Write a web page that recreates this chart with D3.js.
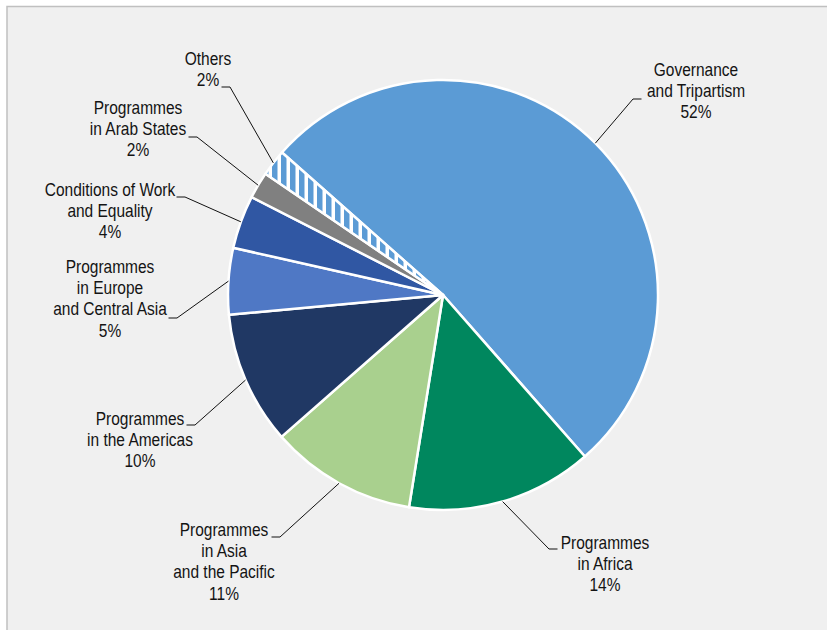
<!DOCTYPE html>
<html>
<head>
<meta charset="utf-8">
<script src="https://cdn.jsdelivr.net/npm/d3@7"></script>
<style>
  html, body { margin: 0; padding: 0; background: #ffffff; }
  svg { display: block; }
  text { font-family: 'Liberation Sans', Arial, sans-serif; font-size: 18.67px; fill: #141414; }
</style>
</head>
<body>
<svg id="chart" width="827" height="630"></svg>
<script>
// Expenditure share by area (percent), clockwise from the top-left
const categories = [
  "Governance and Tripartism",
  "Programmes in Africa",
  "Programmes in Asia and the Pacific",
  "Programmes in the Americas",
  "Programmes in Europe and Central Asia",
  "Conditions of Work and Equality",
  "Programmes in Arab States",
  "Others"
];
const values = [52, 14, 11, 10, 5, 4, 2, 2];
const labelLines = [
  ["Governance", "and Tripartism"],
  ["Programmes", "in Africa"],
  ["Programmes", "in Asia", "and the Pacific"],
  ["Programmes", "in the Americas"],
  ["Programmes", "in Europe", "and Central Asia"],
  ["Conditions of Work", "and Equality"],
  ["Programmes", "in Arab States"],
  ["Others"]
];
const colors = ["#5b9bd5", "#00875e", "#a9d08e", "#203864", "#4f78c5", "#3057a3", "#808080", "url(#hatch)"];

// Label placement: text centre x, first baseline y, elbow of the leader line and tick direction
const labelLayout = [
  { x: 696, y: 76,  ex: 633, ey: 99,  dir: 1 },
  { x: 605, y: 549, ex: 549, ey: 549, dir: 1 },
  { x: 224, y: 536, ex: 280, ey: 537, dir: -1 },
  { x: 140, y: 425, ex: 195, ey: 425, dir: -1 },
  { x: 110, y: 273, ex: 177, ey: 318, dir: -1 },
  { x: 110, y: 196, ex: 185, ey: 197, dir: -1 },
  { x: 138, y: 114, ex: 197, ey: 137, dir: -1 },
  { x: 208, y: 65,  ex: 230, ey: 87,  dir: -1 }
];

const W = 827, H = 630;
const cx = 443, cy = 295, R = 215;
const startDeg = -48.5;
const lineH = 21.2;
const narrow = 0.83;   // horizontal condensing of the label face

const svg = d3.select("#chart");

// Hatched fill for the smallest slice
const defs = svg.append("defs");
const pat = defs.append("pattern")
  .attr("id", "hatch")
  .attr("patternUnits", "userSpaceOnUse")
  .attr("width", 9).attr("height", 9);
pat.append("rect").attr("width", 9).attr("height", 9).attr("fill", "#ffffff");
pat.append("rect").attr("width", 5.5).attr("height", 9).attr("fill", "#5b9bd5");

// Panel background with its top and left rule
svg.append("rect").attr("x", 7).attr("y", 6.5).attr("width", W - 7).attr("height", H - 6.5).attr("fill", "#f0f0f0");
svg.append("path")
  .attr("d", `M7,${H} L7,6.5 L${W},6.5`)
  .attr("fill", "none").attr("stroke", "#c0c0c0").attr("stroke-width", 1.5);

const data = categories.map((c, i) => ({ name: c, value: values[i], lines: labelLines[i], color: colors[i], layout: labelLayout[i] }));

const pie = d3.pie()
  .value(d => d.value)
  .sort(null)
  .startAngle(startDeg * Math.PI / 180)
  .endAngle((startDeg + 360) * Math.PI / 180);

const arc = d3.arc().innerRadius(0).outerRadius(R);
const arcs = pie(data);

const g = svg.append("g").attr("transform", `translate(${cx},${cy})`);

g.selectAll("path.slice")
  .data(arcs)
  .join("path")
  .attr("class", "slice")
  .attr("d", arc)
  .attr("fill", d => d.data.color)
  .attr("stroke", "#ffffff")
  .attr("stroke-width", 2.5)
  .attr("stroke-linejoin", "round");

// Leader lines: from the slice edge at its mid-angle to the elbow, then a short tick
const leaders = svg.append("g");
arcs.forEach(a => {
  const mid = (a.startAngle + a.endAngle) / 2;
  const px = cx + R * Math.sin(mid);
  const py = cy - R * Math.cos(mid);
  const L = a.data.layout;
  leaders.append("path")
    .attr("d", `M${px},${py} L${L.ex},${L.ey} L${L.ex + 8.5 * L.dir},${L.ey}`)
    .attr("fill", "none")
    .attr("stroke", "#111")
    .attr("stroke-width", 1);
});

// Category labels with their percentages
const labels = svg.append("g");
arcs.forEach(a => {
  const L = a.data.layout;
  const t = labels.append("text")
    .attr("text-anchor", "middle")
    .attr("transform", `translate(${L.x},0) scale(${narrow},1)`);
  const lines = a.data.lines.concat([d3.format("d")(a.data.value) + "%"]);
  lines.forEach((ln, i) => {
    t.append("tspan").attr("x", 0).attr("y", L.y + i * lineH).text(ln);
  });
});
</script>
</body>
</html>
